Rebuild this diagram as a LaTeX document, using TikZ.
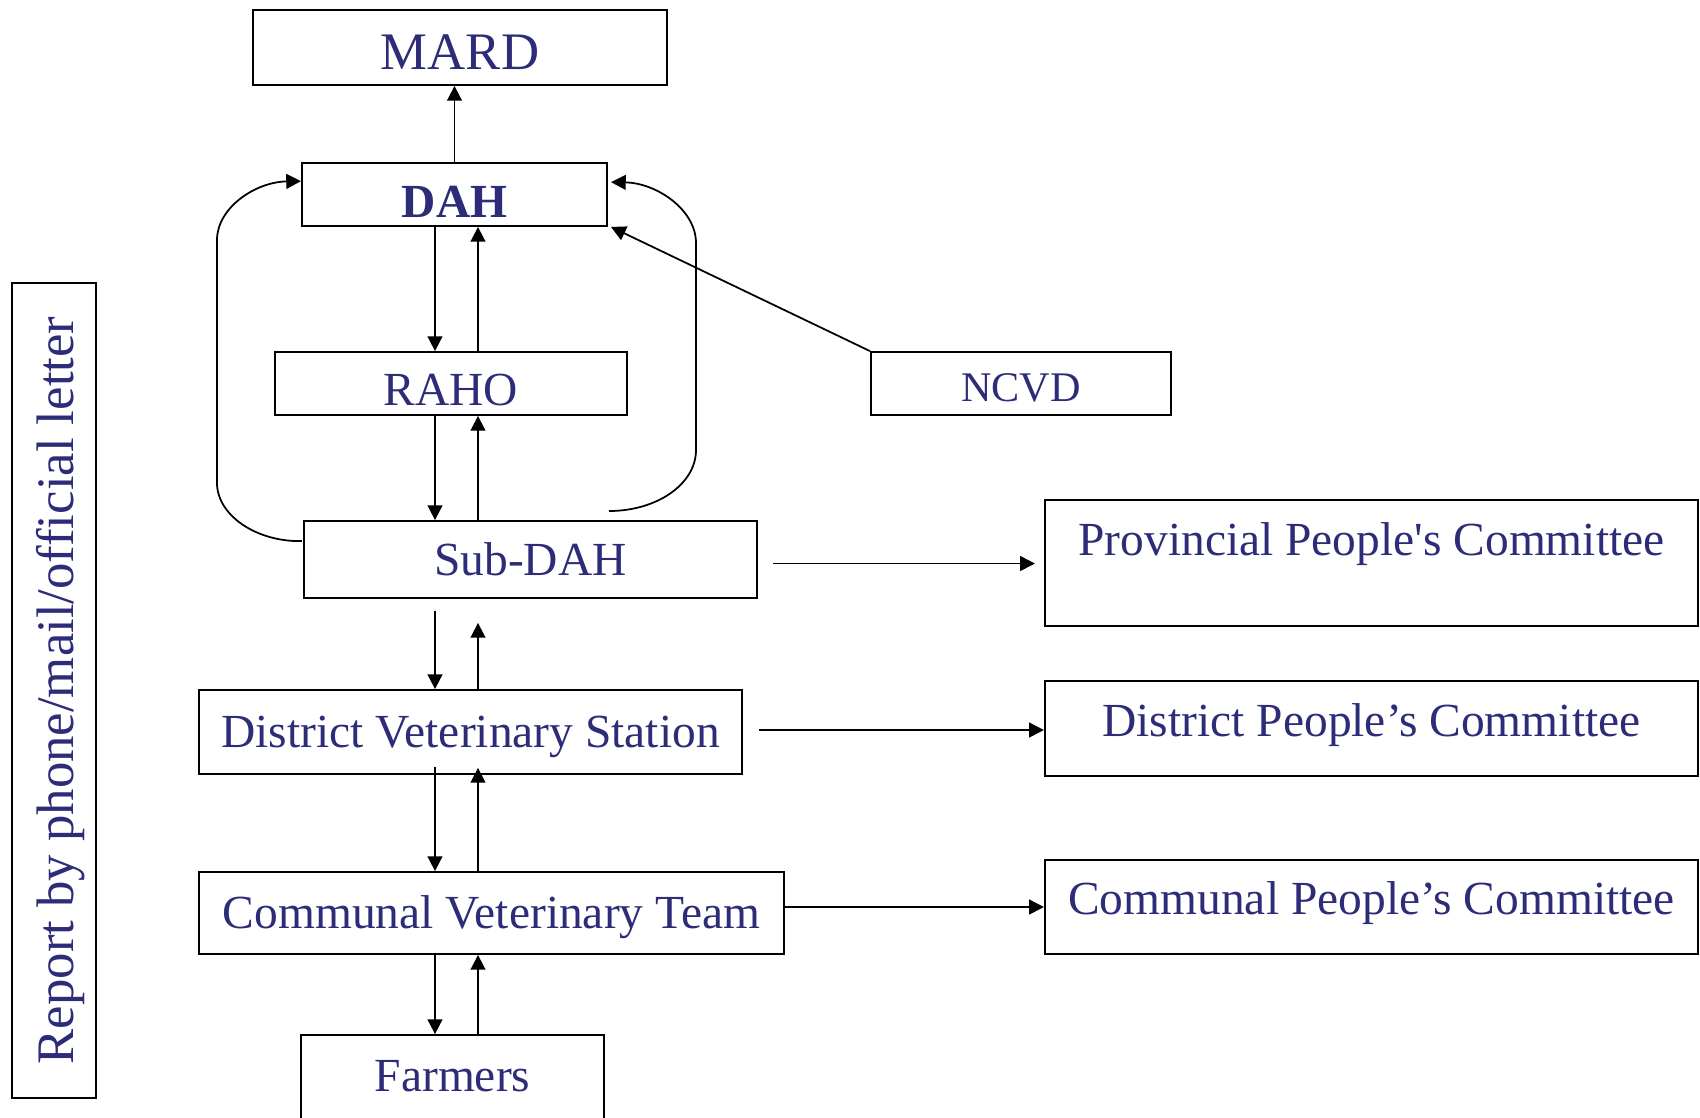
\documentclass[tikz,border=0pt]{standalone}
\usepackage{fontspec}
\setmainfont{Liberation Serif}[Ligatures=TeXOff]
\usetikzlibrary{arrows.meta, calc, positioning}
\definecolor{navy}{RGB}{44,44,120}
\tikzset{>={Triangle[length=4.2pt,width=4.2pt]}}
\tikzset{
  box/.style={draw, line width=0.5pt, text=navy, inner sep=0pt,
    font=\fontsize{13.5}{16}\selectfont, text height=8.9pt, text depth=0pt},
}

\begin{document}
\begin{tikzpicture}[x=0.01cm, y=-0.01cm, line width=0.5pt]
\useasboundingbox (0,0) rectangle (1700,1117);

% Chain of offices
\node[box, minimum width=4.14cm, minimum height=0.75cm, font=\fontsize{15}{18}\selectfont, text height=12.5pt] (mard) at (460,47.5) {MARD};
\node[box, minimum width=3.05cm, minimum height=0.63cm, font=\fontsize{13.5}{16}\selectfont\bfseries, text height=13.2pt] (dah) at (454.5,194.5) {DAH};
\node[box, minimum width=3.52cm, minimum height=0.63cm, text height=12.3pt] (raho) at (451,383.5) {RAHO};
\node[box, minimum width=3.00cm, minimum height=0.63cm, font=\fontsize{12}{14}\selectfont, text height=10.5pt] (ncvd) at (1021,383.5) {NCVD};
\node[box, minimum width=4.53cm, minimum height=0.77cm] (sub) at (530.5,559.5) {Sub-DAH};
\node[box, minimum width=5.43cm, minimum height=0.84cm] (dvs) at (470.5,732) {District Veterinary Station};
\node[box, minimum width=5.85cm, minimum height=0.82cm] (cvt) at (491.5,913) {Communal Veterinary Team};
\node[box, minimum width=3.03cm, minimum height=0.90cm, text depth=2.6pt] (farm) at (452.5,1080) {Farmers};

% People's committees
\node[box, minimum width=6.53cm, minimum height=1.26cm, text depth=13.1pt] (ppc) at (1371.5,563) {Provincial People's Committee};
\node[box, minimum width=6.53cm, minimum height=0.95cm, text depth=4.3pt] (dpc) at (1371.5,728.5) {District People’s Committee};
\node[box, minimum width=6.53cm, minimum height=0.94cm, text depth=4.6pt] (cpc) at (1371.5,907) {Communal People’s Committee};

% Side label
\node[box, rotate=90, minimum width=8.15cm, minimum height=0.84cm, font=\fontsize{15}{18}\selectfont, text height=14.2pt, text depth=3.3pt] (report) at (54,690.5) {Report by phone/mail/official letter};

% Up and down links
\coordinate (dn) at (435,0);
\coordinate (up) at (478,0);
\draw[->] (dah.north) -- (dah.north |- mard.south);
\draw[->] (dn |- dah.south) -- (dn |- raho.north);
\draw[->] (up |- raho.north) -- (up |- dah.south);
\draw[->] (dn |- raho.south) -- (dn |- sub.north);
\draw[->] (up |- sub.north) -- (up |- raho.south);
\draw[->] ($(dn |- sub.south)+(0,12)$) -- (dn |- dvs.north);
\draw[->] (up |- dvs.north) -- ($(up |- sub.south)+(0,24)$);
\draw[->] ($(dn |- dvs.south)+(0,-8)$) -- (dn |- cvt.north);
\draw[->] (up |- cvt.north) -- ($(up |- dvs.south)+(0,-7)$);
\draw[->] ($(dn |- cvt.south)+(0,-2)$) -- (dn |- farm.north);
\draw[->] (up |- farm.north) -- (up |- cvt.south);

% To the committees
\draw[->] ($(sub.east)+(15,4)$) -- ($(sub.east -| ppc.west)+(-9,4)$);
\draw[->] ($(dvs.east)+(16,-2)$) -- ($(dvs.east -| dpc.west)+(0,-2)$);
\draw[->] ($(cvt.east)+(0,-6)$) -- ($(cvt.east -| cpc.west)+(0,-6)$);

% NCVD to DAH
\draw[->] (ncvd.north west) -- ($(dah.south east)+(3,0)$);

% Direct reports from Sub-DAH
\draw[->] ($(sub.north west)+(-1,21)$) .. controls (256,542) and (217,515) .. (217,483)
  -- (217,240) .. controls (217,208) and (255,182) .. ($(dah.north west)+(0,19)$);
\coordinate (subfree) at (609,511);
\draw[->] (subfree) .. controls (657,511) and (696,484) .. (696,450)
  -- (696,243) .. controls (696,210) and (657,183) .. ($(dah.north east)+(3,20)$);

\end{tikzpicture}
\end{document}
